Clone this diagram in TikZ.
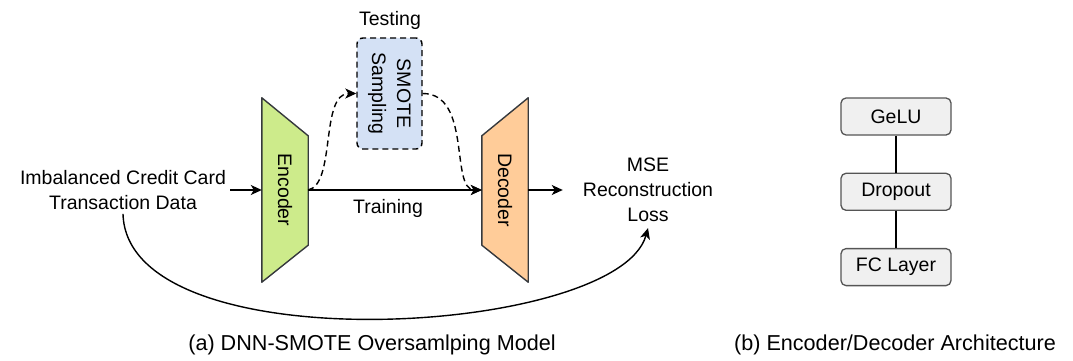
\documentclass[tikz,border=0pt]{standalone}
\usepackage{fontspec}
\setmainfont{Liberation Sans}
\usetikzlibrary{arrows.meta,positioning,calc,backgrounds}
\definecolor{encgreen}{HTML}{CDEB8B}
\definecolor{decorange}{HTML}{FFCC99}
\definecolor{smoteblue}{HTML}{D4E1F5}
\definecolor{shapeedge}{HTML}{36393D}
\definecolor{layerfill}{HTML}{F0F0F0}
\definecolor{layeredge}{HTML}{555555}
\tikzset{
  txt/.style={align=center, inner sep=4pt, font=\fontsize{19.5}{25}\selectfont},
  caption/.style={align=center, inner sep=4pt, font=\fontsize{21.6}{26}\selectfont},
  block/.style={inner sep=0pt, minimum width=46pt, minimum height=184pt, font=\fontsize{19.5}{25}\selectfont},
  body/.style={draw=shapeedge, line width=1.4pt, line join=round},
  smotebox/.style={draw=black, dash pattern=on 6pt off 4pt, line width=1.4pt, fill=smoteblue, rounded corners=6pt, inner sep=0pt, minimum width=65pt, minimum height=111pt, font=\fontsize{19.5}{25}\selectfont},
  layer/.style={draw=layeredge, fill=layerfill, line width=1.3pt, rounded corners=5pt, inner sep=0pt, minimum width=110pt, minimum height=37pt, font=\fontsize{19.5}{25}\selectfont},
  arrow/.style={-{Stealth[length=11pt,width=10pt,inset=3pt]}, line width=1.4pt},
  dasharrow/.style={-{Stealth[length=11pt,width=10pt,inset=3pt]}, line width=1.4pt, dash pattern=on 6pt off 4pt},
  link/.style={line width=1.4pt}
}
\begin{document}
\begin{tikzpicture}[x=1pt,y=-1pt]
\useasboundingbox (0,0) rectangle (1073,361);
\node[txt] (data) at (123,190) {Imbalanced Credit Card\\Transaction Data};
\node[block] (enc) at (285,190) {\rotatebox{-90}{Encoder}};
\node[block] (dec) at (505,190) {\rotatebox{-90}{Decoder}};
\node[smotebox] (smote) at (389.5,93.5) {\rotatebox{-90}{\begin{tabular}{@{}c@{}}SMOTE\\Sampling\end{tabular}}};
\node[txt] (testing) at (390,20) {Testing};
\node[txt, inner xsep=20pt, inner ysep=6pt] (mse) at (648,190) {MSE\\Reconstruction\\Loss};
\begin{scope}[on background layer]
\filldraw[body, fill=encgreen] (enc.north west) -- ($(enc.north east)+(0,38)$) -- ($(enc.south east)+(0,-37)$) -- (enc.south west) -- cycle;
\filldraw[body, fill=decorange] (dec.north east) -- ($(dec.north west)+(0,38)$) -- ($(dec.south west)+(0,-37)$) -- (dec.south east) -- cycle;
\end{scope}
\draw[arrow] (data.east) -- (enc.west);
\draw[arrow] (enc.east) -- node[txt, below=5pt, xshift=-7pt] (training) {Training} (dec.west);
\draw[arrow] (dec.east) -- (mse.west);
\draw[dasharrow] (enc.east) .. controls (336,184) and (320,93.5) .. (smote.west);
\draw[dasharrow] (smote.east) .. controls (472,93.5) and (450,190) .. (dec.west);
\draw[arrow] (data.south) .. controls +(4,152) and +(-30,108) .. (mse.south);
\node[layer] (gelu) at (896,116.5) {GeLU};
\node[layer, below=37pt of gelu] (dropout) {Dropout};
\node[layer, below=37pt of dropout] (fc) {FC Layer};
\draw[link] (gelu) -- (dropout);
\draw[link] (dropout) -- (fc);
\node[caption] (capa) at (372,345) {(a) DNN-SMOTE Oversamlping Model};
\node[caption] (capb) at (895,345) {(b) Encoder/Decoder Architecture};
\end{tikzpicture}
\end{document}
